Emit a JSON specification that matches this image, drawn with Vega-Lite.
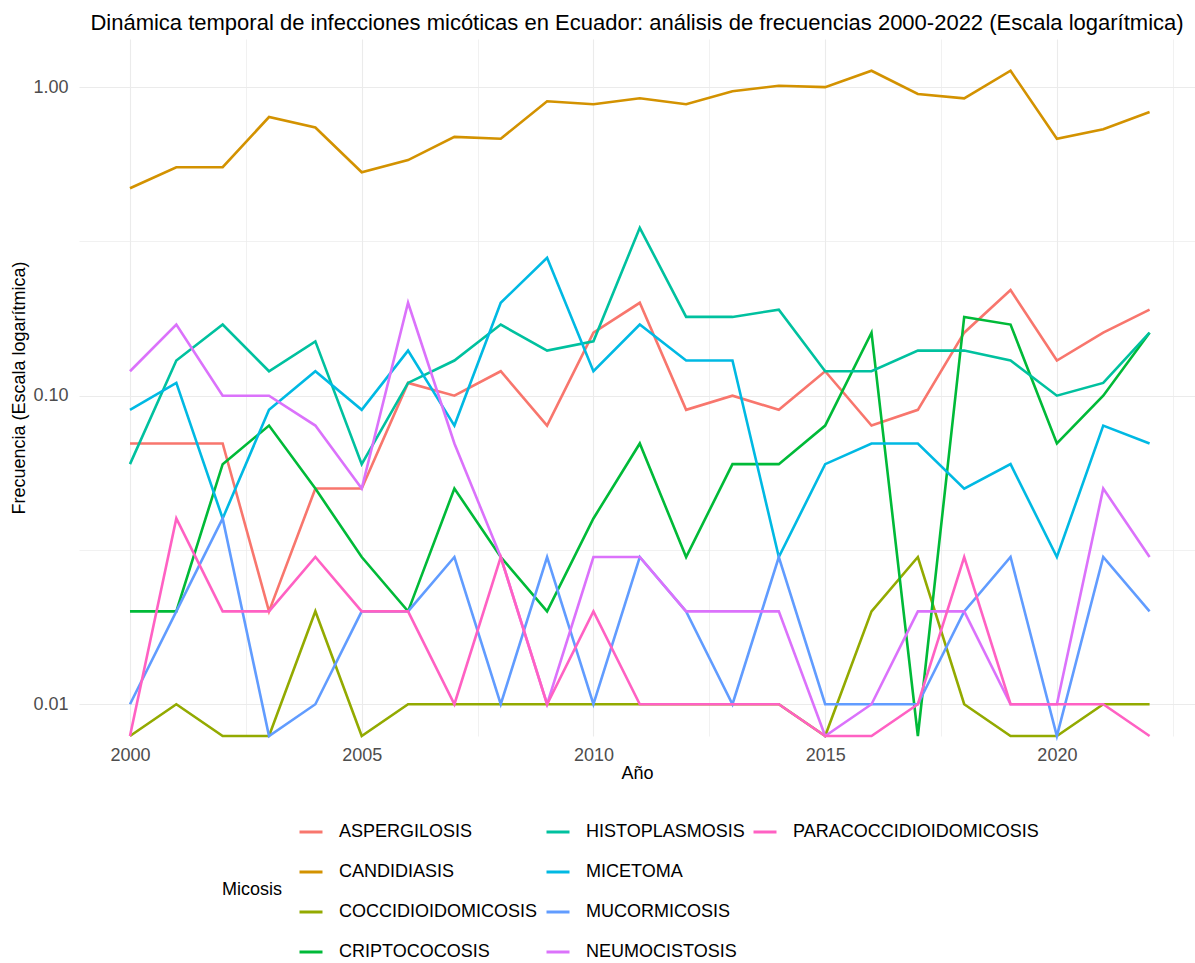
{
"$schema": "https://vega.github.io/schema/vega-lite/v6.json",
"width": 1116,
"height": 697,
"autosize": {"type": "none"},
"padding": {"left": 79, "top": 39, "right": 0, "bottom": 227},
"background": "white",
"title": {"text": "Dinámica temporal de infecciones micóticas en Ecuador: análisis de frecuencias 2000-2022 (Escala logarítmica)", "fontSize": 22, "fontWeight": "normal", "font": "Liberation Sans", "color": "#000000", "anchor": "middle", "baseline": "alphabetic", "offset": -13},
"data": {"values": [
{"year":2000,"micosis":"ASPERGILOSIS","frecuencia":0.07},{"year":2001,"micosis":"ASPERGILOSIS","frecuencia":0.07},{"year":2002,"micosis":"ASPERGILOSIS","frecuencia":0.07},{"year":2003,"micosis":"ASPERGILOSIS","frecuencia":0.02},{"year":2004,"micosis":"ASPERGILOSIS","frecuencia":0.05},{"year":2005,"micosis":"ASPERGILOSIS","frecuencia":0.05},{"year":2006,"micosis":"ASPERGILOSIS","frecuencia":0.11},{"year":2007,"micosis":"ASPERGILOSIS","frecuencia":0.10},{"year":2008,"micosis":"ASPERGILOSIS","frecuencia":0.12},{"year":2009,"micosis":"ASPERGILOSIS","frecuencia":0.08},{"year":2010,"micosis":"ASPERGILOSIS","frecuencia":0.16},{"year":2011,"micosis":"ASPERGILOSIS","frecuencia":0.20},{"year":2012,"micosis":"ASPERGILOSIS","frecuencia":0.09},{"year":2013,"micosis":"ASPERGILOSIS","frecuencia":0.10},{"year":2014,"micosis":"ASPERGILOSIS","frecuencia":0.09},{"year":2015,"micosis":"ASPERGILOSIS","frecuencia":0.12},{"year":2016,"micosis":"ASPERGILOSIS","frecuencia":0.08},{"year":2017,"micosis":"ASPERGILOSIS","frecuencia":0.09},{"year":2018,"micosis":"ASPERGILOSIS","frecuencia":0.16},{"year":2019,"micosis":"ASPERGILOSIS","frecuencia":0.22},{"year":2020,"micosis":"ASPERGILOSIS","frecuencia":0.13},{"year":2021,"micosis":"ASPERGILOSIS","frecuencia":0.16},{"year":2022,"micosis":"ASPERGILOSIS","frecuencia":0.19},
{"year":2000,"micosis":"CANDIDIASIS","frecuencia":0.47},{"year":2001,"micosis":"CANDIDIASIS","frecuencia":0.55},{"year":2002,"micosis":"CANDIDIASIS","frecuencia":0.55},{"year":2003,"micosis":"CANDIDIASIS","frecuencia":0.80},{"year":2004,"micosis":"CANDIDIASIS","frecuencia":0.74},{"year":2005,"micosis":"CANDIDIASIS","frecuencia":0.53},{"year":2006,"micosis":"CANDIDIASIS","frecuencia":0.58},{"year":2007,"micosis":"CANDIDIASIS","frecuencia":0.69},{"year":2008,"micosis":"CANDIDIASIS","frecuencia":0.68},{"year":2009,"micosis":"CANDIDIASIS","frecuencia":0.90},{"year":2010,"micosis":"CANDIDIASIS","frecuencia":0.88},{"year":2011,"micosis":"CANDIDIASIS","frecuencia":0.92},{"year":2012,"micosis":"CANDIDIASIS","frecuencia":0.88},{"year":2013,"micosis":"CANDIDIASIS","frecuencia":0.97},{"year":2014,"micosis":"CANDIDIASIS","frecuencia":1.01},{"year":2015,"micosis":"CANDIDIASIS","frecuencia":1.00},{"year":2016,"micosis":"CANDIDIASIS","frecuencia":1.13},{"year":2017,"micosis":"CANDIDIASIS","frecuencia":0.95},{"year":2018,"micosis":"CANDIDIASIS","frecuencia":0.92},{"year":2019,"micosis":"CANDIDIASIS","frecuencia":1.13},{"year":2020,"micosis":"CANDIDIASIS","frecuencia":0.68},{"year":2021,"micosis":"CANDIDIASIS","frecuencia":0.73},{"year":2022,"micosis":"CANDIDIASIS","frecuencia":0.83},
{"year":2000,"micosis":"COCCIDIOIDOMICOSIS","frecuencia":0},{"year":2001,"micosis":"COCCIDIOIDOMICOSIS","frecuencia":0.01},{"year":2002,"micosis":"COCCIDIOIDOMICOSIS","frecuencia":0},{"year":2003,"micosis":"COCCIDIOIDOMICOSIS","frecuencia":0},{"year":2004,"micosis":"COCCIDIOIDOMICOSIS","frecuencia":0.02},{"year":2005,"micosis":"COCCIDIOIDOMICOSIS","frecuencia":0},{"year":2006,"micosis":"COCCIDIOIDOMICOSIS","frecuencia":0.01},{"year":2007,"micosis":"COCCIDIOIDOMICOSIS","frecuencia":0.01},{"year":2008,"micosis":"COCCIDIOIDOMICOSIS","frecuencia":0.01},{"year":2009,"micosis":"COCCIDIOIDOMICOSIS","frecuencia":0.01},{"year":2010,"micosis":"COCCIDIOIDOMICOSIS","frecuencia":0.01},{"year":2011,"micosis":"COCCIDIOIDOMICOSIS","frecuencia":0.01},{"year":2012,"micosis":"COCCIDIOIDOMICOSIS","frecuencia":0.01},{"year":2013,"micosis":"COCCIDIOIDOMICOSIS","frecuencia":0.01},{"year":2014,"micosis":"COCCIDIOIDOMICOSIS","frecuencia":0.01},{"year":2015,"micosis":"COCCIDIOIDOMICOSIS","frecuencia":0},{"year":2016,"micosis":"COCCIDIOIDOMICOSIS","frecuencia":0.02},{"year":2017,"micosis":"COCCIDIOIDOMICOSIS","frecuencia":0.03},{"year":2018,"micosis":"COCCIDIOIDOMICOSIS","frecuencia":0.01},{"year":2019,"micosis":"COCCIDIOIDOMICOSIS","frecuencia":0},{"year":2020,"micosis":"COCCIDIOIDOMICOSIS","frecuencia":0},{"year":2021,"micosis":"COCCIDIOIDOMICOSIS","frecuencia":0.01},{"year":2022,"micosis":"COCCIDIOIDOMICOSIS","frecuencia":0.01},
{"year":2000,"micosis":"CRIPTOCOCOSIS","frecuencia":0.02},{"year":2001,"micosis":"CRIPTOCOCOSIS","frecuencia":0.02},{"year":2002,"micosis":"CRIPTOCOCOSIS","frecuencia":0.06},{"year":2003,"micosis":"CRIPTOCOCOSIS","frecuencia":0.08},{"year":2004,"micosis":"CRIPTOCOCOSIS","frecuencia":0.05},{"year":2005,"micosis":"CRIPTOCOCOSIS","frecuencia":0.03},{"year":2006,"micosis":"CRIPTOCOCOSIS","frecuencia":0.02},{"year":2007,"micosis":"CRIPTOCOCOSIS","frecuencia":0.05},{"year":2008,"micosis":"CRIPTOCOCOSIS","frecuencia":0.03},{"year":2009,"micosis":"CRIPTOCOCOSIS","frecuencia":0.02},{"year":2010,"micosis":"CRIPTOCOCOSIS","frecuencia":0.04},{"year":2011,"micosis":"CRIPTOCOCOSIS","frecuencia":0.07},{"year":2012,"micosis":"CRIPTOCOCOSIS","frecuencia":0.03},{"year":2013,"micosis":"CRIPTOCOCOSIS","frecuencia":0.06},{"year":2014,"micosis":"CRIPTOCOCOSIS","frecuencia":0.06},{"year":2015,"micosis":"CRIPTOCOCOSIS","frecuencia":0.08},{"year":2016,"micosis":"CRIPTOCOCOSIS","frecuencia":0.16},{"year":2017,"micosis":"CRIPTOCOCOSIS","frecuencia":0},{"year":2018,"micosis":"CRIPTOCOCOSIS","frecuencia":0.18},{"year":2019,"micosis":"CRIPTOCOCOSIS","frecuencia":0.17},{"year":2020,"micosis":"CRIPTOCOCOSIS","frecuencia":0.07},{"year":2021,"micosis":"CRIPTOCOCOSIS","frecuencia":0.10},{"year":2022,"micosis":"CRIPTOCOCOSIS","frecuencia":0.16},
{"year":2000,"micosis":"HISTOPLASMOSIS","frecuencia":0.06},{"year":2001,"micosis":"HISTOPLASMOSIS","frecuencia":0.13},{"year":2002,"micosis":"HISTOPLASMOSIS","frecuencia":0.17},{"year":2003,"micosis":"HISTOPLASMOSIS","frecuencia":0.12},{"year":2004,"micosis":"HISTOPLASMOSIS","frecuencia":0.15},{"year":2005,"micosis":"HISTOPLASMOSIS","frecuencia":0.06},{"year":2006,"micosis":"HISTOPLASMOSIS","frecuencia":0.11},{"year":2007,"micosis":"HISTOPLASMOSIS","frecuencia":0.13},{"year":2008,"micosis":"HISTOPLASMOSIS","frecuencia":0.17},{"year":2009,"micosis":"HISTOPLASMOSIS","frecuencia":0.14},{"year":2010,"micosis":"HISTOPLASMOSIS","frecuencia":0.15},{"year":2011,"micosis":"HISTOPLASMOSIS","frecuencia":0.35},{"year":2012,"micosis":"HISTOPLASMOSIS","frecuencia":0.18},{"year":2013,"micosis":"HISTOPLASMOSIS","frecuencia":0.18},{"year":2014,"micosis":"HISTOPLASMOSIS","frecuencia":0.19},{"year":2015,"micosis":"HISTOPLASMOSIS","frecuencia":0.12},{"year":2016,"micosis":"HISTOPLASMOSIS","frecuencia":0.12},{"year":2017,"micosis":"HISTOPLASMOSIS","frecuencia":0.14},{"year":2018,"micosis":"HISTOPLASMOSIS","frecuencia":0.14},{"year":2019,"micosis":"HISTOPLASMOSIS","frecuencia":0.13},{"year":2020,"micosis":"HISTOPLASMOSIS","frecuencia":0.10},{"year":2021,"micosis":"HISTOPLASMOSIS","frecuencia":0.11},{"year":2022,"micosis":"HISTOPLASMOSIS","frecuencia":0.16},
{"year":2000,"micosis":"MICETOMA","frecuencia":0.09},{"year":2001,"micosis":"MICETOMA","frecuencia":0.11},{"year":2002,"micosis":"MICETOMA","frecuencia":0.04},{"year":2003,"micosis":"MICETOMA","frecuencia":0.09},{"year":2004,"micosis":"MICETOMA","frecuencia":0.12},{"year":2005,"micosis":"MICETOMA","frecuencia":0.09},{"year":2006,"micosis":"MICETOMA","frecuencia":0.14},{"year":2007,"micosis":"MICETOMA","frecuencia":0.08},{"year":2008,"micosis":"MICETOMA","frecuencia":0.20},{"year":2009,"micosis":"MICETOMA","frecuencia":0.28},{"year":2010,"micosis":"MICETOMA","frecuencia":0.12},{"year":2011,"micosis":"MICETOMA","frecuencia":0.17},{"year":2012,"micosis":"MICETOMA","frecuencia":0.13},{"year":2013,"micosis":"MICETOMA","frecuencia":0.13},{"year":2014,"micosis":"MICETOMA","frecuencia":0.03},{"year":2015,"micosis":"MICETOMA","frecuencia":0.06},{"year":2016,"micosis":"MICETOMA","frecuencia":0.07},{"year":2017,"micosis":"MICETOMA","frecuencia":0.07},{"year":2018,"micosis":"MICETOMA","frecuencia":0.05},{"year":2019,"micosis":"MICETOMA","frecuencia":0.06},{"year":2020,"micosis":"MICETOMA","frecuencia":0.03},{"year":2021,"micosis":"MICETOMA","frecuencia":0.08},{"year":2022,"micosis":"MICETOMA","frecuencia":0.07},
{"year":2000,"micosis":"MUCORMICOSIS","frecuencia":0.01},{"year":2001,"micosis":"MUCORMICOSIS","frecuencia":0.02},{"year":2002,"micosis":"MUCORMICOSIS","frecuencia":0.04},{"year":2003,"micosis":"MUCORMICOSIS","frecuencia":0},{"year":2004,"micosis":"MUCORMICOSIS","frecuencia":0.01},{"year":2005,"micosis":"MUCORMICOSIS","frecuencia":0.02},{"year":2006,"micosis":"MUCORMICOSIS","frecuencia":0.02},{"year":2007,"micosis":"MUCORMICOSIS","frecuencia":0.03},{"year":2008,"micosis":"MUCORMICOSIS","frecuencia":0.01},{"year":2009,"micosis":"MUCORMICOSIS","frecuencia":0.03},{"year":2010,"micosis":"MUCORMICOSIS","frecuencia":0.01},{"year":2011,"micosis":"MUCORMICOSIS","frecuencia":0.03},{"year":2012,"micosis":"MUCORMICOSIS","frecuencia":0.02},{"year":2013,"micosis":"MUCORMICOSIS","frecuencia":0.01},{"year":2014,"micosis":"MUCORMICOSIS","frecuencia":0.03},{"year":2015,"micosis":"MUCORMICOSIS","frecuencia":0.01},{"year":2016,"micosis":"MUCORMICOSIS","frecuencia":0.01},{"year":2017,"micosis":"MUCORMICOSIS","frecuencia":0.01},{"year":2018,"micosis":"MUCORMICOSIS","frecuencia":0.02},{"year":2019,"micosis":"MUCORMICOSIS","frecuencia":0.03},{"year":2020,"micosis":"MUCORMICOSIS","frecuencia":0},{"year":2021,"micosis":"MUCORMICOSIS","frecuencia":0.03},{"year":2022,"micosis":"MUCORMICOSIS","frecuencia":0.02},
{"year":2000,"micosis":"NEUMOCISTOSIS","frecuencia":0.12},{"year":2001,"micosis":"NEUMOCISTOSIS","frecuencia":0.17},{"year":2002,"micosis":"NEUMOCISTOSIS","frecuencia":0.10},{"year":2003,"micosis":"NEUMOCISTOSIS","frecuencia":0.10},{"year":2004,"micosis":"NEUMOCISTOSIS","frecuencia":0.08},{"year":2005,"micosis":"NEUMOCISTOSIS","frecuencia":0.05},{"year":2006,"micosis":"NEUMOCISTOSIS","frecuencia":0.20},{"year":2007,"micosis":"NEUMOCISTOSIS","frecuencia":0.07},{"year":2008,"micosis":"NEUMOCISTOSIS","frecuencia":0.03},{"year":2009,"micosis":"NEUMOCISTOSIS","frecuencia":0.01},{"year":2010,"micosis":"NEUMOCISTOSIS","frecuencia":0.03},{"year":2011,"micosis":"NEUMOCISTOSIS","frecuencia":0.03},{"year":2012,"micosis":"NEUMOCISTOSIS","frecuencia":0.02},{"year":2013,"micosis":"NEUMOCISTOSIS","frecuencia":0.02},{"year":2014,"micosis":"NEUMOCISTOSIS","frecuencia":0.02},{"year":2015,"micosis":"NEUMOCISTOSIS","frecuencia":0},{"year":2016,"micosis":"NEUMOCISTOSIS","frecuencia":0.01},{"year":2017,"micosis":"NEUMOCISTOSIS","frecuencia":0.02},{"year":2018,"micosis":"NEUMOCISTOSIS","frecuencia":0.02},{"year":2019,"micosis":"NEUMOCISTOSIS","frecuencia":0.01},{"year":2020,"micosis":"NEUMOCISTOSIS","frecuencia":0.01},{"year":2021,"micosis":"NEUMOCISTOSIS","frecuencia":0.05},{"year":2022,"micosis":"NEUMOCISTOSIS","frecuencia":0.03},
{"year":2000,"micosis":"PARACOCCIDIOIDOMICOSIS","frecuencia":0},{"year":2001,"micosis":"PARACOCCIDIOIDOMICOSIS","frecuencia":0.04},{"year":2002,"micosis":"PARACOCCIDIOIDOMICOSIS","frecuencia":0.02},{"year":2003,"micosis":"PARACOCCIDIOIDOMICOSIS","frecuencia":0.02},{"year":2004,"micosis":"PARACOCCIDIOIDOMICOSIS","frecuencia":0.03},{"year":2005,"micosis":"PARACOCCIDIOIDOMICOSIS","frecuencia":0.02},{"year":2006,"micosis":"PARACOCCIDIOIDOMICOSIS","frecuencia":0.02},{"year":2007,"micosis":"PARACOCCIDIOIDOMICOSIS","frecuencia":0.01},{"year":2008,"micosis":"PARACOCCIDIOIDOMICOSIS","frecuencia":0.03},{"year":2009,"micosis":"PARACOCCIDIOIDOMICOSIS","frecuencia":0.01},{"year":2010,"micosis":"PARACOCCIDIOIDOMICOSIS","frecuencia":0.02},{"year":2011,"micosis":"PARACOCCIDIOIDOMICOSIS","frecuencia":0.01},{"year":2012,"micosis":"PARACOCCIDIOIDOMICOSIS","frecuencia":0.01},{"year":2013,"micosis":"PARACOCCIDIOIDOMICOSIS","frecuencia":0.01},{"year":2014,"micosis":"PARACOCCIDIOIDOMICOSIS","frecuencia":0.01},{"year":2015,"micosis":"PARACOCCIDIOIDOMICOSIS","frecuencia":0},{"year":2016,"micosis":"PARACOCCIDIOIDOMICOSIS","frecuencia":0},{"year":2017,"micosis":"PARACOCCIDIOIDOMICOSIS","frecuencia":0.01},{"year":2018,"micosis":"PARACOCCIDIOIDOMICOSIS","frecuencia":0.03},{"year":2019,"micosis":"PARACOCCIDIOIDOMICOSIS","frecuencia":0.01},{"year":2020,"micosis":"PARACOCCIDIOIDOMICOSIS","frecuencia":0.01},{"year":2021,"micosis":"PARACOCCIDIOIDOMICOSIS","frecuencia":0.01},{"year":2022,"micosis":"PARACOCCIDIOIDOMICOSIS","frecuencia":0}
]},
"layer": [
{
"mark": {"type": "point", "opacity": 0, "invalid": "show"},
"encoding": {
"x": {"field": "year", "type": "quantitative", "scale": {"domain": [1998.9, 2022.98], "nice": false, "zero": false}, "axis": {"orient": "bottom", "values": [2002.5, 2007.5, 2012.5, 2017.5, 2022.5], "labels": false, "ticks": false, "domain": false, "grid": true, "gridColor": "#EBEBEB", "gridWidth": 0.7, "title": null}},
"y": {"field": "frecuencia", "type": "quantitative", "scale": {"type": "log", "domain": [0.00789, 1.432], "nice": false, "clamp": true}, "axis": {"orient": "left", "values": [0.0316228, 0.316228], "labels": false, "ticks": false, "domain": false, "grid": true, "gridColor": "#EBEBEB", "gridWidth": 0.7, "title": null}}
}
},
{
"mark": {"type": "line", "strokeWidth": 2.6, "invalid": "show"},
"encoding": {
"x": {"field": "year", "type": "quantitative", "scale": {"domain": [1998.9, 2022.98], "nice": false, "zero": false}, "axis": {"orient": "bottom", "values": [2000, 2005, 2010, 2015, 2020], "format": "d", "grid": true, "gridColor": "#EBEBEB", "gridWidth": 1.1, "labelPadding": 10, "title": "Año", "titlePadding": 0}},
"y": {"field": "frecuencia", "type": "quantitative", "scale": {"type": "log", "domain": [0.00789, 1.432], "nice": false, "clamp": true}, "axis": {"orient": "left", "values": [0.01, 0.1, 1], "format": ".2f", "grid": true, "gridColor": "#EBEBEB", "gridWidth": 1.1, "labelPadding": 11, "title": "Frecuencia (Escala logarítmica)", "titlePadding": 4}},
"color": {"field": "micosis", "type": "nominal",
"scale": {"domain": ["ASPERGILOSIS", "CANDIDIASIS", "COCCIDIOIDOMICOSIS", "CRIPTOCOCOSIS", "HISTOPLASMOSIS", "MICETOMA", "MUCORMICOSIS", "NEUMOCISTOSIS", "PARACOCCIDIOIDOMICOSIS", " ", "  ", "   "],
"range": ["#F8766D", "#D39200", "#93AA00", "#00BA38", "#00C19F", "#00B9E3", "#619CFF", "#DB72FB", "#FF61C3", "rgba(0,0,0,0)", "rgba(0,0,0,0)", "rgba(0,0,0,0)"]},
"legend": {"orient": "none", "legendX": 143, "legendY": 780, "columns": 3, "title": "Micosis", "titleOrient": "left", "titleAngle": 0, "titleAnchor": "middle", "titleBaseline": "middle", "titlePadding": 15, "titleFontSize": 18, "titleFontWeight": "normal", "titleColor": "#000000", "labelFontSize": 18, "labelColor": "#000000", "labelLimit": 0, "labelOffset": 15, "symbolType": "stroke", "symbolSize": 529, "symbolStrokeWidth": 3, "rowPadding": 18, "columnPadding": 2, "padding": 0}
}
}
}
],
"resolve": {"axis": {"x": "independent", "y": "independent"}},
"config": {
"font": "Liberation Sans",
"view": {"stroke": null},
"axis": {"labelFont": "Liberation Sans", "labelFontSize": 18, "labelColor": "#4D4D4D", "titleFont": "Liberation Sans", "titleFontSize": 18, "titleFontWeight": "normal", "titleColor": "#000000", "ticks": false, "domain": false, "gridColor": "#EBEBEB"},
"legend": {"labelFont": "Liberation Sans", "titleFont": "Liberation Sans"}
}
}
